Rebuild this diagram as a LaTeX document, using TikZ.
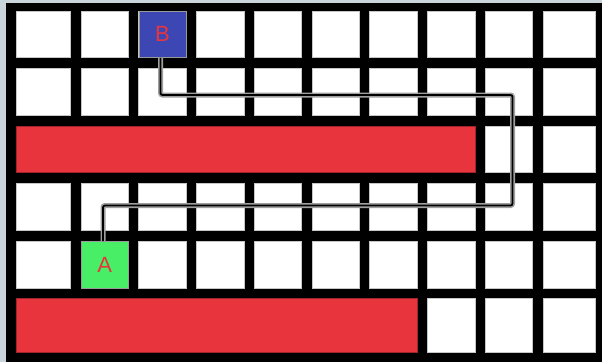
\documentclass[tikz,border=0pt]{standalone}
\usepackage{fontspec}
\setmainfont{Liberation Sans}
\definecolor{framecol}{HTML}{C9D4DB}
\definecolor{barred}{HTML}{E8343D}
\definecolor{bblue}{HTML}{3D47B3}
\definecolor{agreen}{HTML}{47EE66}
\definecolor{lblred}{HTML}{E8343D}
\begin{document}
\begin{tikzpicture}[x=1pt,y=-1pt,
  cellbox/.style={fill=white,draw=gray!45,line width=0.7pt},
  barbox/.style={fill=barred,draw=barred!70!black,line width=0.5pt},
  endbox/.style={draw=black!40,line width=0.5pt,inner sep=0pt,minimum width=47.5pt,minimum height=46.5pt,
    text=lblred,font=\fontsize{22}{22}\selectfont},
  route/.style={draw=gray!75,line width=1.6pt,double=black,double distance=1.8pt,rounded corners=2pt}]
\fill[framecol] (0,0) rectangle (602,362);
\fill[black] (6,3) rectangle (602,362);
\useasboundingbox (0,0) rectangle (602,362);
% grid of white cells
\foreach \xa/\xb in {16/70, 81/128.5, 138.75/186.25, 196.5/244, 254.25/301.75, 312/359.5, 369.75/417.25, 427.5/475, 485.25/532.75, 543/595}{
  \foreach \ya/\yb in {11/57.5, 68.5/115, 126/172.5, 183.5/230, 241/288, 298.5/352}{
    \path[cellbox] (\xa,\ya) rectangle (\xb,\yb);
  }
}
% red bars
\path[barbox] (16,126) rectangle (475,172.5);
\path[barbox] (16,298.5) rectangle (417.25,352);
% start and end cells
\node[endbox,fill=bblue] (B) at (162.5,34.25) {B};
\node[endbox,fill=agreen] (A) at (104.75,264.5) {A};
% route
\coordinate (p1) at (160.5,95);
\coordinate (p2) at (512.5,95);
\coordinate (p3) at (512.5,205.5);
\coordinate (p4) at (103,205.5);
\draw[route] (B.south -| p1) -- (p1) -- (p2) -- (p3) -- (p4) -- (A.north -| p4);
\end{tikzpicture}
\end{document}
